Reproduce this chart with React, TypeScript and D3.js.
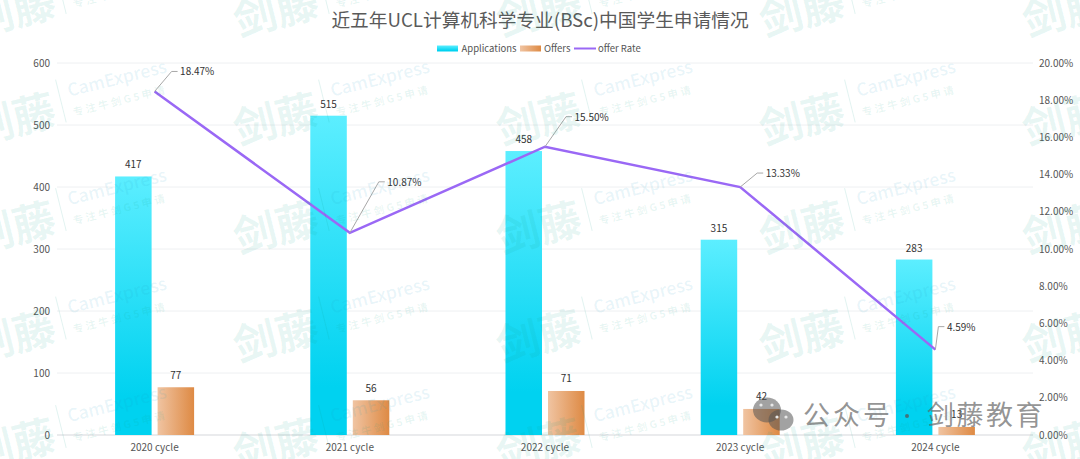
import { useRef, useEffect } from 'react'
import * as d3 from 'd3'

const W = 1080
const H = 459
const FONT = '"Noto Sans CJK SC", "Noto Sans", sans-serif'

const categories = ['2020 cycle', '2021 cycle', '2022 cycle', '2023 cycle', '2024 cycle']
const applications = [417, 515, 458, 315, 283]
const offers = [77, 56, 71, 42, 13]
const offerRate = [18.47, 10.87, 15.5, 13.33, 4.59]
const leftTicks = [0, 100, 200, 300, 400, 500, 600]
const rightTicks = [0, 2, 4, 6, 8, 10, 12, 14, 16, 18, 20]

// leader line elbows for the rate labels, [dx, dy] from the point
const leaders = [[17, -20], [29, -51], [21, -30], [17, -14], [3, -23]]

// watermark tile origins
const markCols = [-25, 238, 501, 764, 1027]
const markRows = [36.5, 145, 253.5, 362, 470.5]

export default function App() {
  const svgRef = useRef<SVGSVGElement | null>(null)

  useEffect(() => {
    const svg = d3.select(svgRef.current)
    svg.selectAll('*').remove()
    const pad = { l: 57, r: 47, t: 63, b: 24 }

    const x = d3.scaleBand().domain(categories).range([pad.l, W - pad.r])
    const y = d3.scaleLinear().domain([0, 600]).range([H - pad.b, pad.t])
    const yR = d3.scaleLinear().domain([0, 20]).range([H - pad.b, pad.t])
    const barW = 36.5
    const barGap = 6

    const defs = svg.append('defs')
    const appGrad = defs.append('linearGradient').attr('id', 'appGrad').attr('x1', 0).attr('x2', 0).attr('y1', 0).attr('y2', 1)
    appGrad.append('stop').attr('offset', '0%').attr('stop-color', '#5CEEFF')
    appGrad.append('stop').attr('offset', '85%').attr('stop-color', '#00D2F0')
    appGrad.append('stop').attr('offset', '100%').attr('stop-color', '#00D2F0')
    const offGrad = defs.append('linearGradient').attr('id', 'offGrad').attr('x1', 0).attr('x2', 1).attr('y1', 0).attr('y2', 0)
    offGrad.append('stop').attr('offset', '0%').attr('stop-color', '#F0C4A2')
    offGrad.append('stop').attr('offset', '100%').attr('stop-color', '#DE8A44')

    svg.append('rect').attr('width', W).attr('height', H).attr('fill', '#fff')

    // grid
    svg.selectAll('.grid')
      .data(leftTicks.slice(1))
      .join('line')
      .attr('x1', pad.l).attr('x2', W - pad.r)
      .attr('y1', d => y(d)).attr('y2', d => y(d))
      .attr('stroke', '#EEF0F2')

    svg.append('line')
      .attr('x1', pad.l).attr('x2', W - pad.r)
      .attr('y1', y(0)).attr('y2', y(0))
      .attr('stroke', '#D5D8DC').attr('stroke-width', 1.2)

    svg.selectAll('.left-tick')
      .data(leftTicks)
      .join('text')
      .attr('x', 50).attr('y', d => y(d) + 3.5)
      .attr('text-anchor', 'end').attr('font-size', 10).attr('font-family', FONT)
      .attr('fill', '#555')
      .text(d => d)

    svg.selectAll('.right-tick')
      .data(rightTicks)
      .join('text')
      .attr('x', 1039).attr('y', d => yR(d) + 3.5)
      .attr('font-size', 10).attr('font-family', FONT)
      .attr('fill', '#555')
      .text(d => d3.format('.2f')(d) + '%')

    svg.selectAll('.x-label')
      .data(categories)
      .join('text')
      .attr('x', d => x(d)! + x.bandwidth() / 2).attr('y', 451)
      .attr('text-anchor', 'middle').attr('font-size', 10).attr('font-family', FONT)
      .attr('fill', '#555')
      .text(d => d)

    const cx = (i: number) => x(categories[i])! + x.bandwidth() / 2

    svg.selectAll('.app')
      .data(applications)
      .join('rect')
      .attr('x', (_, i) => cx(i) - barGap / 2 - barW)
      .attr('y', d => y(d))
      .attr('width', barW)
      .attr('height', d => y(0) - y(d))
      .attr('fill', 'url(#appGrad)')

    svg.selectAll('.off')
      .data(offers)
      .join('rect')
      .attr('x', (_, i) => cx(i) + barGap / 2)
      .attr('y', d => y(d))
      .attr('width', barW)
      .attr('height', d => y(0) - y(d))
      .attr('fill', 'url(#offGrad)')

    svg.selectAll('.app-label')
      .data(applications)
      .join('text')
      .attr('x', (_, i) => cx(i) - barGap / 2 - barW / 2).attr('y', d => y(d) - 8)
      .attr('text-anchor', 'middle').attr('font-size', 10).attr('font-family', FONT)
      .attr('fill', '#333')
      .text(d => d)

    svg.selectAll('.off-label')
      .data(offers)
      .join('text')
      .attr('x', (_, i) => cx(i) + barGap / 2 + barW / 2).attr('y', d => y(d) - 8.5)
      .attr('text-anchor', 'middle').attr('font-size', 10).attr('font-family', FONT)
      .attr('fill', '#333')
      .text(d => d)

    const line = d3.line<number>().x((_, i) => cx(i)).y(d => yR(d))
    svg.append('path')
      .attr('d', line(offerRate))
      .attr('fill', 'none').attr('stroke', '#9A68F5').attr('stroke-width', 2.5)

    // leader lines + rate labels
    const elbow = d3.line()
    svg.selectAll('.leader')
      .data(offerRate)
      .join('path')
      .attr('d', (d, i) => {
        const px = cx(i), py = yR(d)
        const ex = px + leaders[i][0], ey = py + leaders[i][1]
        return elbow([[px, py], [ex, ey], [ex + 6, ey]])
      })
      .attr('fill', 'none').attr('stroke', '#A8A8A8').attr('stroke-width', 1)

    svg.selectAll('.rate-label')
      .data(offerRate)
      .join('text')
      .attr('x', (_, i) => cx(i) + leaders[i][0] + 8.5)
      .attr('y', (d, i) => yR(d) + leaders[i][1] + 4)
      .attr('font-size', 10).attr('font-family', FONT)
      .attr('fill', '#333')
      .text(d => d3.format('.2f')(d) + '%')

    // title
    svg.append('text')
      .attr('x', 540).attr('y', 27)
      .attr('text-anchor', 'middle').attr('font-size', 18.7).attr('font-family', FONT)
      .attr('fill', '#5A5A5A')
      .text('近五年UCL计算机科学专业(BSc)中国学生申请情况')

    // legend
    const lg = svg.append('g')
    lg.append('rect').attr('x', 437).attr('y', 45.5).attr('width', 21).attr('height', 6).attr('fill', 'url(#appGrad)')
    lg.append('text').attr('x', 461.5).attr('y', 52).attr('font-size', 9.5).attr('font-family', FONT).attr('fill', '#555').text('Applications')
    lg.append('rect').attr('x', 520).attr('y', 45.5).attr('width', 21).attr('height', 6).attr('fill', 'url(#offGrad)')
    lg.append('text').attr('x', 544).attr('y', 52).attr('font-size', 9.5).attr('font-family', FONT).attr('fill', '#555').text('Offers')
    lg.append('line').attr('x1', 574).attr('x2', 596).attr('y1', 48.5).attr('y2', 48.5).attr('stroke', '#9A68F5').attr('stroke-width', 2)
    lg.append('text').attr('x', 598).attr('y', 52).attr('font-size', 9.5).attr('font-family', FONT).attr('fill', '#555').text('offer Rate')

    // watermark tiles
    const marks = svg.append('g').attr('pointer-events', 'none')
    markRows.forEach(r => markCols.forEach(c => {
      const g = marks.append('g').attr('transform', `translate(${c},${r}) rotate(-14)`)
      g.append('text').attr('x', 0).attr('y', 0).attr('font-size', 43).attr('font-weight', 700)
        .attr('font-family', FONT).attr('fill', '#0FA08A').attr('fill-opacity', 0.1).text('剑藤')
      g.append('line').attr('x1', 94).attr('x2', 94).attr('y1', -44).attr('y2', 0)
        .attr('stroke', '#0FA08A').attr('stroke-opacity', 0.12)
      g.append('text').attr('x', 103).attr('y', -24).attr('font-size', 17.5).attr('font-weight', 500)
        .attr('font-family', FONT).attr('fill', '#1E9CC0').attr('fill-opacity', 0.1).text('CamExpress')
      g.append('text').attr('x', 103).attr('y', -4).attr('font-size', 10.5).attr('font-weight', 700).attr('letter-spacing', 2.5)
        .attr('font-family', FONT).attr('fill', '#0FA08A').attr('fill-opacity', 0.1).text('专注牛剑G5申请')
    }))

    // account badge, bottom right
    const badge = svg.append('g').attr('pointer-events', 'none')
    const bubbles = [[767, 410, 14, 12.5], [781, 420, 12.5, 10.5]]
    badge.selectAll('.bubble')
      .data(bubbles)
      .join('ellipse')
      .attr('cx', d => d[0]).attr('cy', d => d[1]).attr('rx', d => d[2]).attr('ry', d => d[3])
      .attr('fill', '#555').attr('fill-opacity', 0.55)
    badge.selectAll('.eye')
      .data([[761, 405], [772, 405], [777, 417], [786, 417]])
      .join('circle')
      .attr('cx', d => d[0]).attr('cy', d => d[1]).attr('r', 1.6).attr('fill', '#E8E8E8')
    badge.append('text').attr('x', 803).attr('y', 425).attr('font-size', 27).attr('letter-spacing', 3)
      .attr('font-family', FONT).attr('fill', '#666').attr('fill-opacity', 0.7).text('公众号')
    badge.append('circle').attr('cx', 907).attr('cy', 416).attr('r', 2).attr('fill', '#555').attr('fill-opacity', 0.75)
    badge.append('text').attr('x', 927).attr('y', 425).attr('font-size', 27).attr('letter-spacing', 2.5)
      .attr('font-family', FONT).attr('fill', '#666').attr('fill-opacity', 0.7).text('剑藤教育')
  }, [])

  return (
    <svg ref={svgRef} width={W} height={H}
      style={{ position: 'absolute', left: 0, top: 0, display: 'block' }} />
  )
}
